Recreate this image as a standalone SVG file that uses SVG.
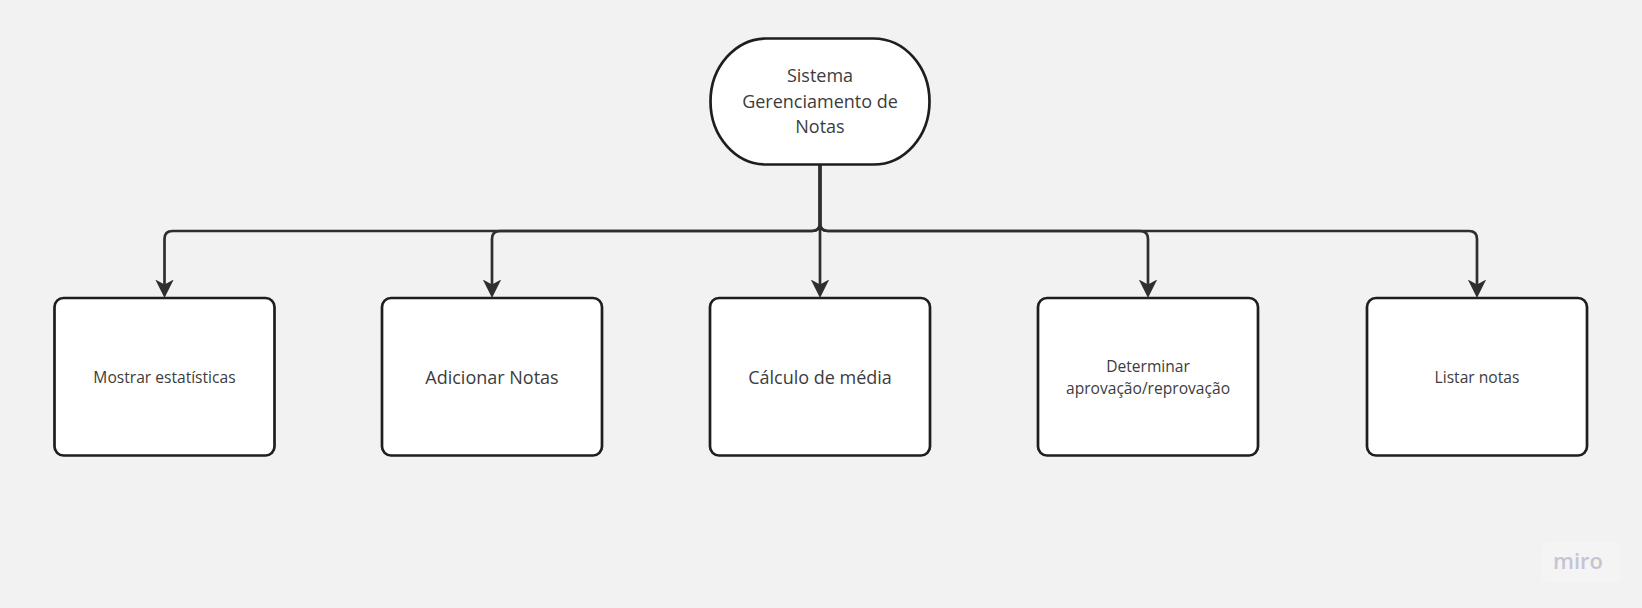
<svg xmlns="http://www.w3.org/2000/svg" width="1642" height="608" viewBox="0 0 1642 608">
<style>
.box{fill:#ffffff;stroke:#1e1e1e;stroke-width:2.7}
.conn{fill:none;stroke:#2f2f2f;stroke-width:2.7}
.t{font-family:"Open Sans","Noto Sans","Liberation Sans",sans-serif;fill:#3c3c3c;text-anchor:middle}
.big{font-size:18px}
.small{font-size:15.6px}
</style>
<defs>
<marker id="arr" viewBox="0 0 20 20" refX="12" refY="10" markerWidth="20" markerHeight="20" markerUnits="userSpaceOnUse" orient="auto">
<path d="M18.5,10 L0,0.8 L5,10 L0,19.2 Z" fill="#2f2f2f"/>
</marker>
</defs>
<rect width="1642" height="608" fill="#f2f2f2"/>
<g id="connectors">
<path class="conn" marker-end="url(#arr)" d="M820,165 V223 Q820,231 812,231 H172.5 Q164.5,231 164.5,239 V291.5"/>
<path class="conn" marker-end="url(#arr)" d="M820,165 V223 Q820,231 812,231 H500 Q492,231 492,239 V291.5"/>
<path class="conn" marker-end="url(#arr)" d="M820,165 V291.5"/>
<path class="conn" marker-end="url(#arr)" d="M820,165 V223 Q820,231 828,231 H1140 Q1148,231 1148,239 V291.5"/>
<path class="conn" marker-end="url(#arr)" d="M820,165 V223 Q820,231 828,231 H1469 Q1477,231 1477,239 V291.5"/>
</g>
<g id="root">
<rect class="box" x="710.5" y="38.5" width="219" height="126" rx="56" ry="63"/>
<text class="t big" x="820" y="82">Sistema</text>
<text class="t big" x="820" y="107.5">Gerenciamento de</text>
<text class="t big" x="820" y="133">Notas</text>
</g>
<g id="n1">
<rect class="box" x="54.5" y="298" width="220" height="157.5" rx="9"/>
<text class="t small" x="164.5" y="382.5">Mostrar estatísticas</text>
</g>
<g id="n2">
<rect class="box" x="382" y="298" width="220" height="157.5" rx="9"/>
<text class="t big" x="492" y="383.5">Adicionar Notas</text>
</g>
<g id="n3">
<rect class="box" x="710" y="298" width="220" height="157.5" rx="9"/>
<text class="t big" x="820" y="383.5">Cálculo de média</text>
</g>
<g id="n4">
<rect class="box" x="1038" y="298" width="220" height="157.5" rx="9"/>
<text class="t small" x="1148" y="371.5">Determinar</text>
<text class="t small" x="1148" y="393.5">aprovação/reprovação</text>
</g>
<g id="n5">
<rect class="box" x="1367" y="298" width="220" height="157.5" rx="9"/>
<text class="t small" x="1477" y="382.5">Listar notas</text>
</g>
<g id="logo">
<rect x="1542" y="542" width="78" height="40" rx="4" fill="#f4f4f4"/>
<text x="1578" y="569" font-family="Open Sans, sans-serif" font-size="22" font-weight="600" fill="#c6c4d2" text-anchor="middle">miro</text>
</g>
</svg>
